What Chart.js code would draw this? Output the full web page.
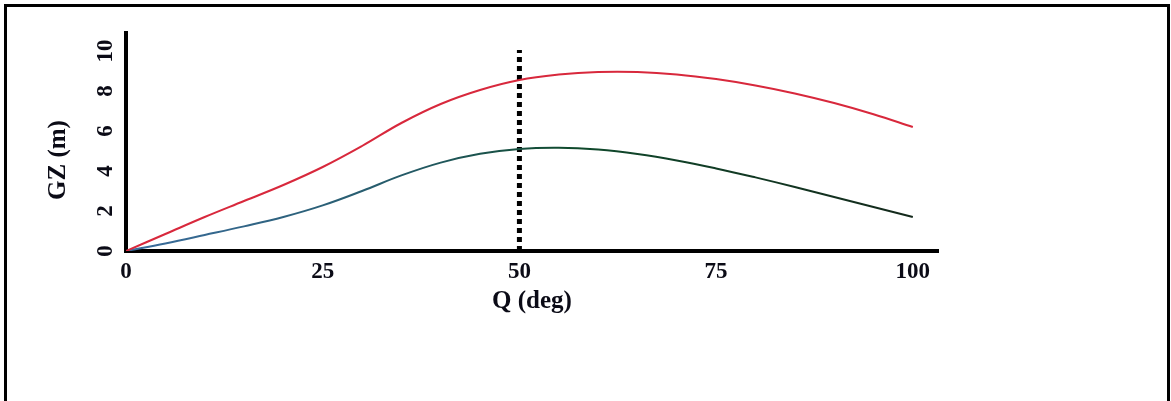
<!DOCTYPE html>
<html>
<head>
<meta charset="utf-8">
<script src="https://cdn.jsdelivr.net/npm/chart.js@4/dist/chart.umd.min.js"></script>
<style>
  html, body { margin: 0; padding: 0; background: #fff; }
  #wrap { position: absolute; left: 0; top: 0; width: 1171px; height: 401px; }
</style>
</head>
<body>
<div id="wrap"><canvas id="gz"></canvas></div>
<script>
  // heel angle (deg) and GZ values
  const angles  = [0, 5, 10, 15, 20, 25, 30, 35, 40, 45, 50, 55, 60, 65, 70, 75, 80, 85, 90, 95, 100];
  const gzUpper = [0, 0.85, 1.7, 2.5, 3.3, 4.2, 5.25, 6.4, 7.35, 8.05, 8.55, 8.82, 8.95, 8.95, 8.83, 8.6, 8.28, 7.88, 7.4, 6.84, 6.2];
  const gzLower = [0, 0.38, 0.8, 1.23, 1.7, 2.28, 3.0, 3.78, 4.42, 4.86, 5.1, 5.16, 5.07, 4.85, 4.53, 4.13, 3.68, 3.2, 2.7, 2.2, 1.7];
  const markerX = [50, 50];
  const markerY = [0, 10.05];
  const xTicks  = [0, 25, 50, 75, 100];
  const yTicks  = [0, 2, 4, 6, 8, 10];

  const SERIF = "'Liberation Serif', 'Times New Roman', serif";
  const INK = '#0b0b16';

  const toXY = (xs, ys) => xs.map((x, i) => ({ x, y: ys[i] }));

  // outer frame (bottom edge is cropped in the original)
  const framePlugin = {
    id: 'frame',
    beforeDraw(chart){
      const c = chart.ctx;
      c.save();
      c.strokeStyle = '#000';
      c.lineWidth = 3;
      c.beginPath();
      c.moveTo(5.5, 401); c.lineTo(5.5, 5.5); c.lineTo(1168.5, 5.5); c.lineTo(1168.5, 401);
      c.stroke();
      c.restore();
    }
  };

  // rotated y tick labels + y title, positioned from the y scale
  const yLabelsPlugin = {
    id: 'yLabels',
    afterDraw(chart){
      const c = chart.ctx;
      const ys = chart.scales.y;
      c.save();
      c.fillStyle = INK;
      c.textAlign = 'center';
      c.textBaseline = 'middle';
      c.font = 'bold 23px ' + SERIF;
      yTicks.forEach(v => {
        const py = ys.getPixelForValue(v);
        c.save();
        c.translate(105, py);
        c.rotate(-Math.PI / 2);
        c.fillText(String(v), 0, 1);
        c.restore();
      });
      c.font = 'bold 25px ' + SERIF;
      c.translate(59, 160);
      c.rotate(-Math.PI / 2);
      c.fillText('GZ (m)', 0, 0);
      c.restore();
    }
  };

  new Chart(document.getElementById('gz'), {
    type: 'line',
    data: {
      datasets: [
        {
          data: toXY(angles, gzUpper),
          borderColor: '#d8283c',
          borderWidth: 2,
          pointRadius: 0,
          tension: 0.4
        },
        {
          data: toXY(angles, gzLower),
          borderColor: (ctx) => {
            const { chart } = ctx;
            const area = chart.chartArea;
            if (!area) return '#1f4f45';
            const g = chart.ctx.createLinearGradient(area.left, 0, area.right, 0);
            g.addColorStop(0, '#3b6d9e');
            g.addColorStop(0.35, '#245a66');
            g.addColorStop(0.55, '#0f4a2c');
            g.addColorStop(1, '#14261a');
            return g;
          },
          borderWidth: 2,
          pointRadius: 0,
          tension: 0.4
        },
        {
          data: toXY(markerX, markerY),
          borderColor: '#000',
          borderWidth: 5,
          borderDash: [5, 4],
          borderCapStyle: 'butt',
          pointRadius: 0
        }
      ]
    },
    options: {
      responsive: true,
      maintainAspectRatio: false,
      animation: false,
      layout: { padding: { left: 0, top: 33, right: 233, bottom: 84 } },
      plugins: { legend: { display: false }, tooltip: { enabled: false } },
      scales: {
        x: {
          type: 'linear',
          min: 0,
          max: 103.2,
          afterFit(scale){ scale.height = 66; },
          afterBuildTicks(scale){ scale.ticks = xTicks.map(v => ({ value: v })); },
          grid: { display: false, drawTicks: false },
          border: { display: true, color: '#000', width: 4 },
          ticks: {
            color: INK,
            padding: 7,
            maxRotation: 0,
            font: { family: SERIF, size: 23, weight: 'bold' }
          },
          title: {
            display: true,
            text: 'Q (deg)',
            color: INK,
            padding: { top: 0, bottom: 0 },
            font: { family: SERIF, size: 25, weight: 'bold' }
          }
        },
        y: {
          type: 'linear',
          min: 0,
          max: 10.9,
          afterFit(scale){ scale.width = 126; },
          afterBuildTicks(scale){ scale.ticks = yTicks.map(v => ({ value: v })); },
          grid: { display: false, drawTicks: false },
          border: { display: true, color: '#000', width: 4 },
          ticks: { display: false }
        }
      }
    },
    plugins: [framePlugin, yLabelsPlugin]
  });
</script>
</body>
</html>
